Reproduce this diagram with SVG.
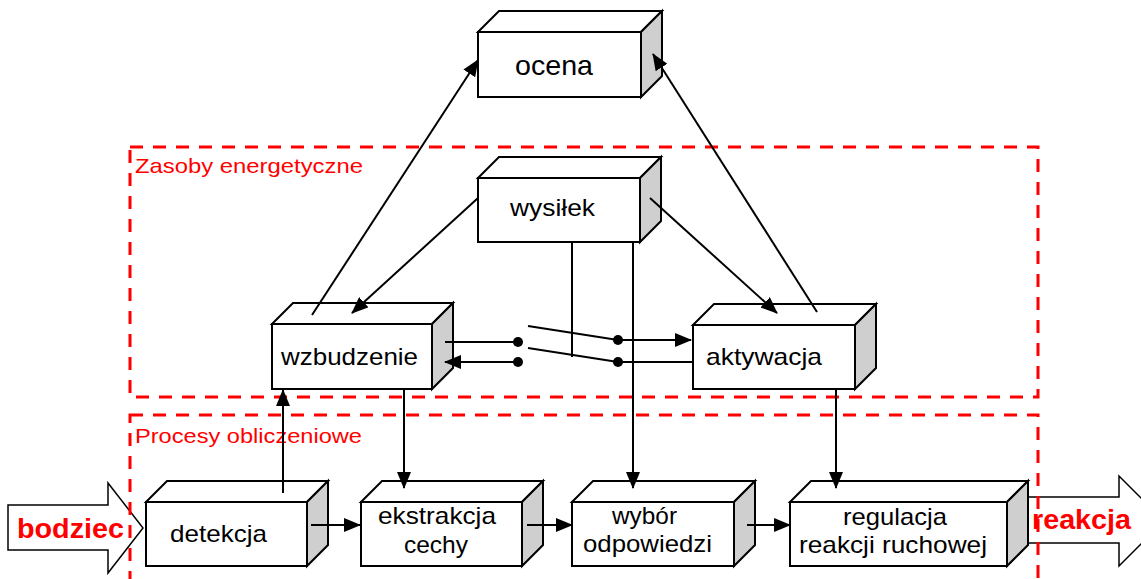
<svg xmlns="http://www.w3.org/2000/svg" width="1141" height="579" viewBox="0 0 1141 579">
<style>
.front{fill:#fff;stroke:#000;stroke-width:2;stroke-linejoin:miter}
.side{fill:#cfcfcf;stroke:#000;stroke-width:2}
.lbl{font-family:"Liberation Sans",Arial,sans-serif;font-size:24px;fill:#000}
.big{font-family:"Liberation Sans",Arial,sans-serif;font-size:28px;font-weight:bold;fill:#ff0000}
.grp{font-family:"Liberation Sans",Arial,sans-serif;font-size:21px;fill:#ff0000}
.con{stroke:#000;stroke-width:2;fill:none}
.dash{fill:none;stroke:#ff0000;stroke-width:3;stroke-dasharray:13 10}
.io{fill:#fff;stroke:#000;stroke-width:1.5}
</style>
<defs>
<marker id="ah" markerUnits="userSpaceOnUse" markerWidth="17" markerHeight="14" refX="16" refY="7" orient="auto">
<path d="M0,0 L17,7 L0,14 Z" fill="#000"/>
</marker>
</defs>
<rect width="1141" height="579" fill="#fff"/>
<g id="bodziec">
<path class="io" d="M8,505 H108 V483 L143,528 L108,573 V550 H8 Z"/>
<text class="big" x="17" y="538" textLength="107" lengthAdjust="spacingAndGlyphs">bodziec</text>
</g>
<g id="reakcja">
<path class="io" d="M1020,497 H1119 V476 L1164,521 L1119,566 V543 H1020 Z"/>
<text class="big" x="1032" y="529" textLength="99" lengthAdjust="spacingAndGlyphs">reakcja</text>
</g>
<g id="zasoby">
<rect class="dash" x="130" y="147" width="908" height="250"/>
<text class="grp" x="135" y="173" textLength="228" lengthAdjust="spacingAndGlyphs">Zasoby energetyczne</text>
</g>
<g id="procesy">
<rect class="dash" x="130" y="415" width="908" height="200"/>
<text class="grp" x="135" y="443" textLength="227" lengthAdjust="spacingAndGlyphs">Procesy obliczeniowe</text>
</g>
<g id="ocena">
<path class="front" d="M478,32 L499,11 H662 L641,32 Z"/>
<path class="side" d="M641,32 L662,11 V76 L641,97 Z"/>
<rect class="front" x="478" y="32" width="163" height="65"/>
<text class="lbl" style="font-size:28px" x="515" y="75" textLength="78" lengthAdjust="spacingAndGlyphs">ocena</text>
</g>
<g id="wysilek">
<path class="front" d="M478,178 L499,157 H661 L640,178 Z"/>
<path class="side" d="M640,178 L661,157 V221 L640,242 Z"/>
<rect class="front" x="478" y="178" width="162" height="64"/>
<text class="lbl" x="510" y="216" textLength="85" lengthAdjust="spacingAndGlyphs">wysiłek</text>
</g>
<g id="wzbudzenie">
<path class="front" d="M272,324 L293,303 H453 L432,324 Z"/>
<path class="side" d="M432,324 L453,303 V368 L432,389 Z"/>
<rect class="front" x="272" y="324" width="160" height="65"/>
<text class="lbl" x="281" y="365" textLength="137" lengthAdjust="spacingAndGlyphs">wzbudzenie</text>
</g>
<g id="aktywacja">
<path class="front" d="M693,325 L714,304 H876 L855,325 Z"/>
<path class="side" d="M855,325 L876,304 V368 L855,389 Z"/>
<rect class="front" x="693" y="325" width="162" height="64"/>
<text class="lbl" x="706" y="365" textLength="116" lengthAdjust="spacingAndGlyphs">aktywacja</text>
</g>
<g id="detekcja">
<path class="front" d="M146,502 L167,481 H328 L307,502 Z"/>
<path class="side" d="M307,502 L328,481 V545 L307,566 Z"/>
<rect class="front" x="146" y="502" width="161" height="64"/>
<text class="lbl" x="170" y="542" textLength="97" lengthAdjust="spacingAndGlyphs">detekcja</text>
</g>
<g id="ekstrakcja">
<path class="front" d="M361,502 L382,481 H543 L522,502 Z"/>
<path class="side" d="M522,502 L543,481 V545 L522,566 Z"/>
<rect class="front" x="361" y="502" width="161" height="64"/>
<text class="lbl" x="378" y="524" textLength="118" lengthAdjust="spacingAndGlyphs">ekstrakcja</text>
<text class="lbl" x="404" y="553" textLength="64" lengthAdjust="spacingAndGlyphs">cechy</text>
</g>
<g id="wybor">
<path class="front" d="M572,502 L593,481 H755 L734,502 Z"/>
<path class="side" d="M734,502 L755,481 V545 L734,566 Z"/>
<rect class="front" x="572" y="502" width="162" height="64"/>
<text class="lbl" x="612" y="524" textLength="65" lengthAdjust="spacingAndGlyphs">wybór</text>
<text class="lbl" x="583" y="552" textLength="129" lengthAdjust="spacingAndGlyphs">odpowiedzi</text>
</g>
<g id="regulacja">
<path class="front" d="M790,502 L811,481 H1028 L1007,502 Z"/>
<path class="side" d="M1007,502 L1028,481 V545 L1007,566 Z"/>
<rect class="front" x="790" y="502" width="217" height="64"/>
<text class="lbl" x="843" y="525" textLength="104" lengthAdjust="spacingAndGlyphs">regulacja</text>
<text class="lbl" x="799" y="553" textLength="188" lengthAdjust="spacingAndGlyphs">reakcji ruchowej</text>
</g>
<g id="connectors">
<line class="con" x1="312" y1="315" x2="478" y2="60" marker-end="url(#ah)"/>
<line class="con" x1="817" y1="312" x2="653" y2="54" marker-end="url(#ah)"/>
<line class="con" x1="478" y1="198" x2="352" y2="313" marker-end="url(#ah)"/>
<line class="con" x1="650" y1="198" x2="777" y2="313" marker-end="url(#ah)"/>
<line class="con" x1="572" y1="242" x2="572" y2="357"/>
<line class="con" x1="633" y1="242" x2="633" y2="488" marker-end="url(#ah)"/>
<line class="con" x1="445" y1="342" x2="518" y2="342"/>
<circle cx="518" cy="342" r="5"/>
<circle cx="518" cy="362" r="5"/>
<line class="con" x1="518" y1="362" x2="445" y2="362" marker-end="url(#ah)"/>
<line class="con" x1="528" y1="326" x2="618" y2="340"/>
<line class="con" x1="528" y1="348" x2="618" y2="362"/>
<circle cx="618" cy="340" r="5"/>
<circle cx="618" cy="362" r="5"/>
<line class="con" x1="618" y1="340" x2="691" y2="340" marker-end="url(#ah)"/>
<line class="con" x1="618" y1="362" x2="693" y2="362"/>
<line class="con" x1="404" y1="389" x2="404" y2="488" marker-end="url(#ah)"/>
<line class="con" x1="283" y1="493" x2="283" y2="390" marker-end="url(#ah)"/>
<line class="con" x1="836" y1="389" x2="836" y2="488" marker-end="url(#ah)"/>
<line class="con" x1="311" y1="525" x2="360" y2="525" marker-end="url(#ah)"/>
<line class="con" x1="527" y1="525" x2="572" y2="525" marker-end="url(#ah)"/>
<line class="con" x1="747" y1="525" x2="790" y2="525" marker-end="url(#ah)"/>
</g>
</svg>
